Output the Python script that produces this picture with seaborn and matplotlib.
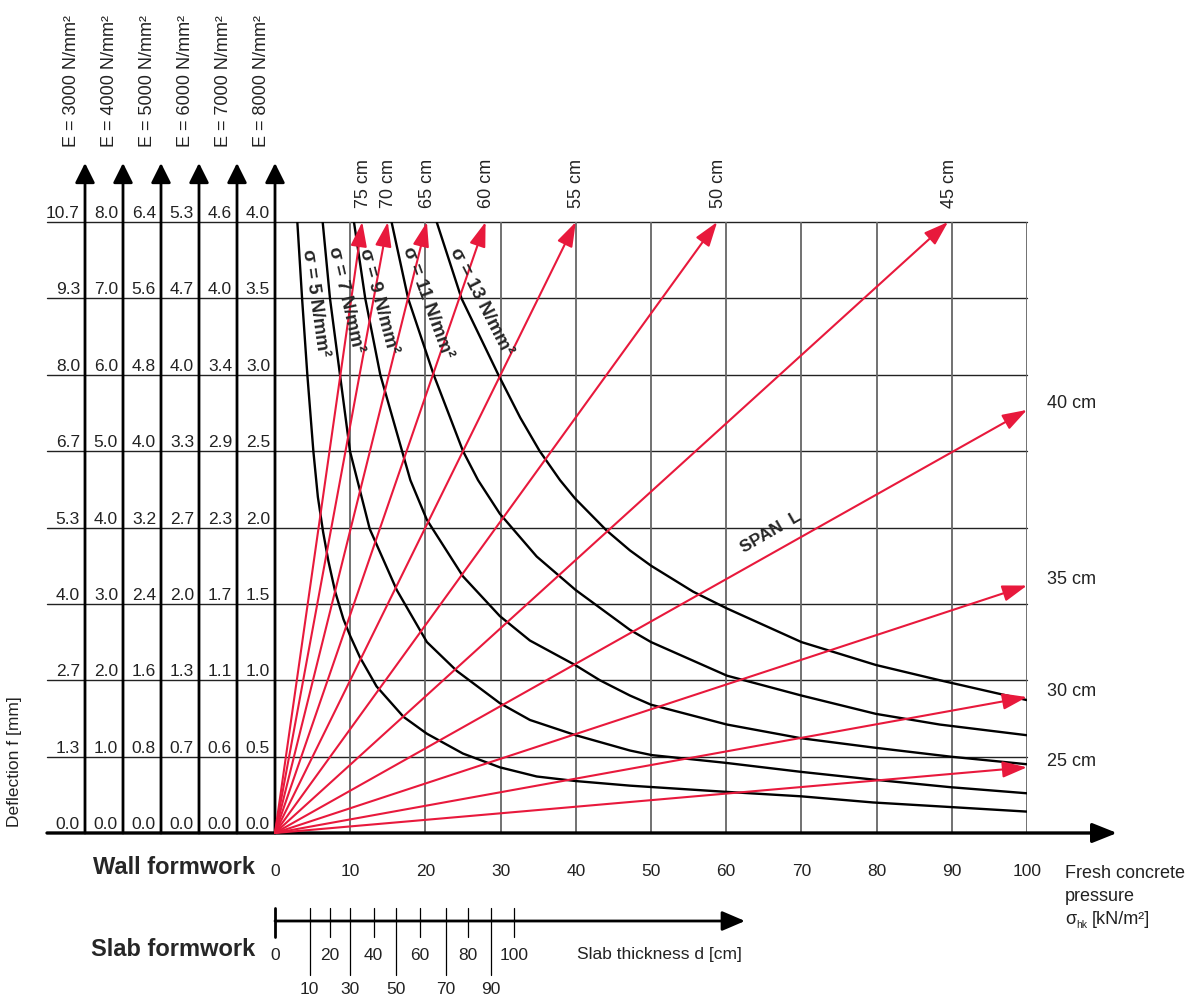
import numpy as np
import pandas as pd
import matplotlib
matplotlib.use("Agg")
import matplotlib.pyplot as plt
import seaborn as sns

sns.set_theme(style="white")
plt.rcParams["font.family"] = ["Liberation Sans", "DejaVu Sans"]

RED = "#E8193C"

# ---- values ----
e_moduli = [3000, 4000, 5000, 6000, 7000, 8000]

# deflection labels of each E scale (top row first)
defl_3000 = ["10.7", "9.3", "8.0", "6.7", "5.3", "4.0", "2.7", "1.3", "0.0"]
defl_4000 = ["8.0", "7.0", "6.0", "5.0", "4.0", "3.0", "2.0", "1.0", "0.0"]
defl_5000 = ["6.4", "5.6", "4.8", "4.0", "3.2", "2.4", "1.6", "0.8", "0.0"]
defl_6000 = ["5.3", "4.7", "4.0", "3.3", "2.7", "2.0", "1.3", "0.7", "0.0"]
defl_7000 = ["4.6", "4.0", "3.4", "2.9", "2.3", "1.7", "1.1", "0.6", "0.0"]
defl_8000 = ["4.0", "3.5", "3.0", "2.5", "2.0", "1.5", "1.0", "0.5", "0.0"]

pressure_ticks = [0, 10, 20, 30, 40, 50, 60, 70, 80, 90, 100]

# stress curves: fresh concrete pressure [kN/m2] vs deflection at E = 8000 [mm]
s5_p = [2.97, 3.6, 4.3, 5.1, 5.7, 6.4, 7.1, 8.0, 9.1, 10.0, 11.3, 13.5, 17.1, 20.2,
        25.0, 29.9, 34.8, 40.0, 47.2, 59.8, 70.0, 79.5, 89.8, 100]
s5_f = [4.0, 3.50, 3.00, 2.50, 2.20, 1.97, 1.78, 1.58, 1.40, 1.29, 1.15, 0.96, 0.76,
        0.65, 0.52, 0.43, 0.37, 0.34, 0.31, 0.27, 0.24, 0.20, 0.17, 0.14]
s7_p = [6.34, 7.31, 8.64, 9.97, 12.6, 16.2, 20.2, 24.2, 29.9, 33.9,
        40.0, 47.2, 50.1, 59.8, 70.0, 79.5, 89.8, 100]
s7_f = [4.0, 3.50, 3.00, 2.50, 1.99, 1.59, 1.25, 1.06, 0.85, 0.74,
        0.64, 0.54, 0.51, 0.46, 0.40, 0.35, 0.30, 0.26]
s9_p = [10.5, 12.0, 14.0, 16.9, 18.0, 20.2, 25.0, 29.9, 33.9, 39.9, 43.2, 47.2,
        50.0, 60.1, 70.0, 79.5, 89.8, 100]
s9_f = [4.0, 3.50, 3.00, 2.50, 2.31, 2.05, 1.68, 1.42, 1.26, 1.10, 1.00, 0.90,
        0.84, 0.71, 0.62, 0.56, 0.50, 0.45]
s11_p = [15.5, 17.7, 21.1, 25.0, 27.0, 29.9, 34.8, 40.0, 47.2, 50.0, 60.1, 70.0,
         79.9, 88.4, 100]
s11_f = [4.0, 3.50, 3.00, 2.50, 2.31, 2.09, 1.81, 1.59, 1.33, 1.25, 1.03, 0.90,
         0.78, 0.71, 0.64]
s13_p = [21.5, 24.8, 29.7, 32.6, 35.2, 37.9, 39.9, 44.1, 47.2, 50.0, 55.6, 60.1,
         70.0, 79.9, 88.4, 100]
s13_f = [4.0, 3.50, 3.00, 2.72, 2.50, 2.31, 2.19, 1.98, 1.85, 1.75, 1.58, 1.47,
         1.25, 1.10, 1.00, 0.87]

# span arrows: end points
span_labels = ["75 cm", "70 cm", "65 cm", "60 cm", "55 cm", "50 cm", "45 cm",
               "40 cm", "35 cm", "30 cm", "25 cm"]
span_end_p = [11.6, 15.0, 20.2, 28.0, 40.0, 58.8, 89.5, 100, 100, 100, 100]
span_end_f = [4.0, 4.0, 4.0, 4.0, 4.0, 4.0, 4.0, 2.77, 1.62, 0.89, 0.43]

# slab thickness scale: thickness [cm] and matching pressure [kN/m2]
slab_d = [10, 20, 30, 40, 50, 60, 70, 80, 90, 100]
slab_p = [4.6, 7.3, 10.0, 13.1, 16.1, 19.3, 22.7, 25.6, 28.7, 31.8]

# ---- figure ----
fig = plt.figure(figsize=(11.92, 9.99), dpi=100)
ax = fig.add_axes([275 / 1192, 166 / 999, 752 / 1192, 611 / 999])
ax.set_xlim(0, 100)
ax.set_ylim(0, 4)
ax.set_axis_off()


def dx(px):
    return px / 7.52


def dy(px):
    return px / 152.75


def arrow(x0, y0, x1, y1, color, lw, hl=0.7, hw=0.25):
    ax.annotate("", xy=(x1, y1), xytext=(x0, y0), annotation_clip=False,
                arrowprops=dict(arrowstyle=f"-|>,head_length={hl},head_width={hw}",
                                color=color, lw=lw, mutation_scale=20,
                                shrinkA=0, shrinkB=0), zorder=5)


f_levels = [float(v) for v in defl_8000]

# grid
for f in f_levels[:-1]:
    ax.plot([dx(-228), 100], [f, f], color="#222222", lw=1.0, clip_on=False, zorder=1)
for p in pressure_ticks[1:]:
    ax.plot([p, p], [0, 4], color="#666666", lw=1.3, zorder=1)

# x axis
arrow(dx(-228), 0, dx(842), 0, "black", 2.4, hl=0.75, hw=0.3)

# E scales on the left
scale_x = [dx(-190), dx(-152), dx(-114), dx(-76), dx(-38), 0]
scale_cols = [defl_3000, defl_4000, defl_5000, defl_6000, defl_7000, defl_8000]
for x, e, col in zip(scale_x, e_moduli, scale_cols):
    arrow(x, 0, x, dy(670), "black", 2.0, hl=0.6, hw=0.3)
    ax.text(x - dx(13), dy(686), f"E = {e} N/mm²", rotation=90,
            ha="center", va="bottom", fontsize=13, color="#222222")
    for f, lab in zip(f_levels, col):
        ax.text(x - dx(5), f + dy(4), lab, ha="right", va="baseline",
                fontsize=12.5, color="#222222")

ax.text(dx(-260), dy(71), "Deflection f [mm]", rotation=90, ha="center",
        va="center", fontsize=12.5, color="#222222")

# stress curves
curves = []
for s, ps, fs in [(5, s5_p, s5_f), (7, s7_p, s7_f), (9, s9_p, s9_f),
                  (11, s11_p, s11_f), (13, s13_p, s13_f)]:
    curves.append(pd.DataFrame({"p": ps, "f": fs, "sigma": s}))
curves = pd.concat(curves, ignore_index=True)
sns.lineplot(data=curves, x="p", y="f", units="sigma", estimator=None,
             sort=False, color="black", lw=1.7, ax=ax, legend=False, zorder=3)

sigma_pos = [(5.3, 3.47, -82), (9.4, 3.49, -77), (13.8, 3.48, -75),
             (20.2, 3.47, -70), (27.4, 3.48, -63)]
for s, (x, y, rot) in zip([5, 7, 9, 11, 13], sigma_pos):
    ax.text(x, y, f"σ = {s} N/mm²", rotation=rot, rotation_mode="anchor",
            ha="center", va="center", fontsize=13.5, fontweight="bold", zorder=6)

# span arrows
for lab, p, f in zip(span_labels, span_end_p, span_end_f):
    arrow(0, 0, p, f, RED, 1.5, hl=0.75, hw=0.25)
    if f >= 4.0:
        ax.text(p + dx(1), dy(625), lab, rotation=90, ha="center", va="bottom",
                fontsize=13, color="#222222")
    else:
        ax.text(dx(772), f + dy(6), lab, ha="left", va="center",
                fontsize=13, color="#222222")

ax.text(66.0, 1.97, "SPAN  L", rotation=30, rotation_mode="anchor",
        ha="center", va="center", fontsize=12.5, fontweight="bold", zorder=6)

# wall formwork axis labels
for p in pressure_ticks:
    ax.text(p, dy(-39), str(p), ha="center", va="center", fontsize=12.5,
            color="#222222")
ax.text(dx(-20), dy(-35), "Wall formwork", ha="right", va="center",
        fontsize=17, fontweight="bold")
xl = dx(790)
ax.text(xl, dy(-45), "Fresh concrete", ha="left", va="baseline", fontsize=13, color="#222222")
ax.text(xl, dy(-68), "pressure", ha="left", va="baseline", fontsize=13, color="#222222")
ax.text(xl, dy(-91), "σ", ha="left", va="baseline", fontsize=13, color="#222222")
ax.text(xl + dx(11), dy(-95), "hk", ha="left", va="baseline", fontsize=7.5, color="#222222")
ax.text(xl + dx(27), dy(-91), "[kN/m²]", ha="left", va="baseline", fontsize=13, color="#222222")

# slab formwork scale
ys = dy(-88)
arrow(0, ys, dx(470), ys, "black", 2.0, hl=0.7, hw=0.3)
ax.plot([0, 0], [dy(-75), dy(-104)], color="black", lw=2.0, clip_on=False)
ax.text(0, dy(-122), "0", ha="center", va="center", fontsize=12.5, color="#222222")
for d, p in zip(slab_d, slab_p):
    if d % 20 == 0:
        ax.plot([p, p], [dy(-75), dy(-104)], color="black", lw=0.9, clip_on=False)
        ax.text(p, dy(-122), str(d), ha="center", va="center", fontsize=12.5,
                color="#222222")
    else:
        ax.plot([p, p], [dy(-75), dy(-142)], color="black", lw=0.9, clip_on=False)
        ax.text(p, dy(-157), str(d), ha="center", va="center", fontsize=12.5,
                color="#222222")
ax.text(dx(-20), dy(-117), "Slab formwork", ha="right", va="center",
        fontsize=17, fontweight="bold")
ax.text(dx(302), dy(-122), "Slab thickness d [cm]", ha="left", va="center",
        fontsize=12.5, color="#222222")

fig.savefig("out.png", dpi=100, facecolor="white")
